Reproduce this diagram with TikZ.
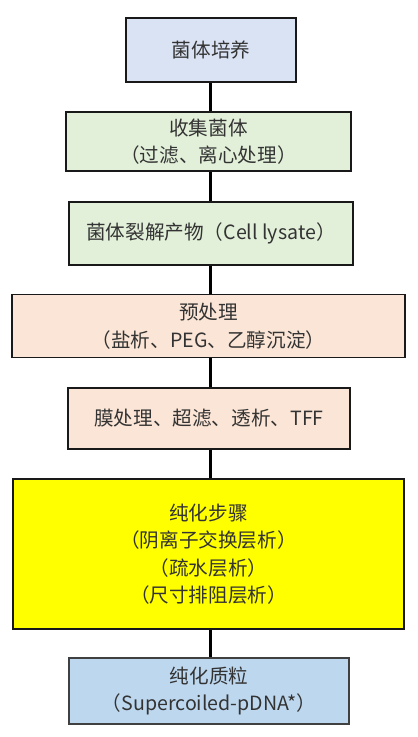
\documentclass[tikz,border=0pt]{standalone}
\usepackage{fontspec}
\setmainfont{Noto Sans CJK SC}
\usetikzlibrary{backgrounds}
\definecolor{txt}{HTML}{333333}
\definecolor{cblue}{HTML}{DAE3F3}
\definecolor{cgreen}{HTML}{E2F0D9}
\definecolor{cpeach}{HTML}{FBE5D6}
\definecolor{cyellow}{HTML}{FFFF00}
\definecolor{cblue2}{HTML}{BDD7EE}
\begin{document}
\begin{tikzpicture}[x=1pt,y=-1pt,
  stepbox/.style={draw=black!90, line width=1.5pt, inner sep=0pt, align=center,
    text=txt, font=\fontsize{19.6}{27.5}\selectfont},
  link/.style={line width=3pt, black}]
\useasboundingbox (0,0) rectangle (418,737);
\coordinate (axis) at (210,0);
\node[stepbox, fill=cblue, minimum width=170pt, minimum height=64pt] (b1) at (211,50) {菌体培养};
\node[stepbox, fill=cgreen, minimum width=285pt, minimum height=59pt] (b2) at (208.5,141.5) {收集菌体\\（过滤、离心处理）};
\node[stepbox, fill=cgreen, minimum width=284pt, minimum height=63pt] (b3) at (211,233.5) {菌体裂解产物（Cell lysate）};
\node[stepbox, fill=cpeach, minimum width=393pt, minimum height=63pt] (b4) at (208.5,326) {预处理\\（盐析、PEG、乙醇沉淀）};
\node[stepbox, fill=cpeach, minimum width=282pt, minimum height=61pt] (b5) at (209,418.5) {膜处理、超滤、透析、TFF};
\node[stepbox, fill=cyellow, minimum width=391pt, minimum height=150pt] (b6) at (208.5,554) {纯化步骤\\（阴离子交换层析）\\（疏水层析）\\（尺寸排阻层析）};
\node[stepbox, fill=cblue2, draw=black!75, minimum width=280pt, minimum height=66pt] (b7) at (209,691) {纯化质粒\\（Supercoiled-pDNA*）};
\begin{scope}[on background layer]
\foreach \a/\b in {b1/b2,b2/b3,b3/b4,b4/b5,b5/b6,b6/b7}{
  \draw[link] (\a.center -| axis) -- (\b.center -| axis);
}
\end{scope}
\end{tikzpicture}
\end{document}
